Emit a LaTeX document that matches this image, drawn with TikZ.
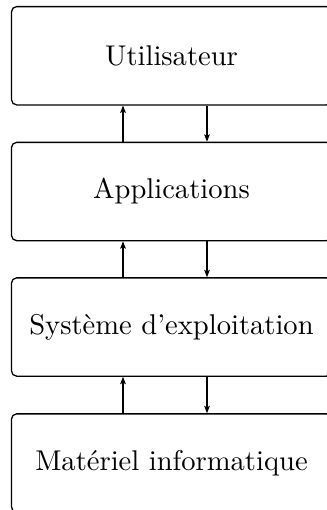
\documentclass[tikz,border=0pt]{standalone}
\usetikzlibrary{arrows.meta}
\begin{document}
\begin{tikzpicture}[x=0.35pt,y=-0.35pt,
  layerbox/.style={draw, line width=0.45pt, rounded corners=1.8pt, minimum width=112pt, minimum height=34.4pt, inner sep=0pt, font=\fontsize{10}{12}\selectfont},
  flow/.style={line width=0.45pt, -{Stealth[length=2.6pt,width=2pt,inset=0.6pt]}}]
\useasboundingbox (0,0) rectangle (326,510);
\node[layerbox] (u) at (171.5,55.75) {Utilisateur};
\node[layerbox] (a) at (171.5,191.5) {Applications};
\node[layerbox] (s) at (171.5,327) {Système d’exploitation};
\node[layerbox] (m) at (171.5,463) {Matériel informatique};
\coordinate (xu) at (123,0);
\coordinate (xd) at (207,0);
\draw[flow] (a.north -| xu) -- (u.south -| xu);
\draw[flow] (u.south -| xd) -- (a.north -| xd);
\draw[flow] (s.north -| xu) -- (a.south -| xu);
\draw[flow] (a.south -| xd) -- (s.north -| xd);
\draw[flow] (m.north -| xu) -- (s.south -| xu);
\draw[flow] (s.south -| xd) -- (m.north -| xd);
\end{tikzpicture}
\end{document}
